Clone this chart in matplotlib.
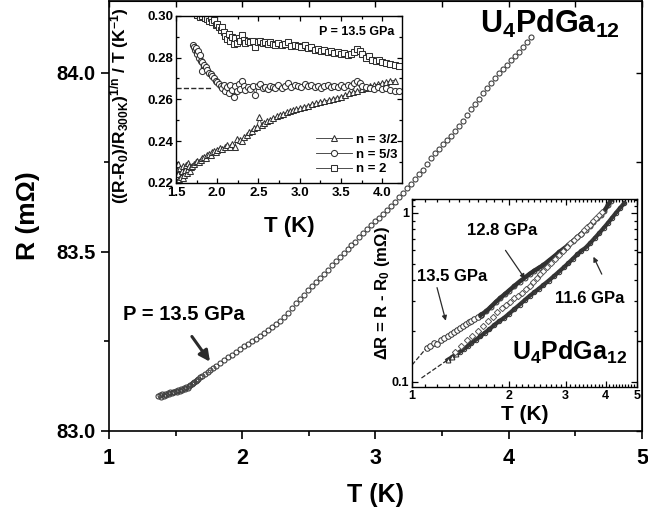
import matplotlib
matplotlib.use("Agg")
import matplotlib.pyplot as plt
from matplotlib.ticker import MultipleLocator, FixedLocator, FixedFormatter, NullFormatter

plt.rcParams['font.family'] = 'Liberation Sans'
plt.rcParams['font.weight'] = 'bold'
plt.rcParams['axes.labelweight'] = 'bold'
plt.rcParams['mathtext.fontset'] = 'custom'
plt.rcParams['mathtext.rm'] = 'Liberation Sans:bold'
plt.rcParams['mathtext.bf'] = 'Liberation Sans:bold'
plt.rcParams['mathtext.it'] = 'Liberation Sans:bold'
plt.rcParams['mathtext.sf'] = 'Liberation Sans:bold'
plt.rcParams['mathtext.default'] = 'bf'

# ---- main curve R(T), P = 13.5 GPa
T_main = [1.37, 1.38, 1.39, 1.40, 1.41, 1.42, 1.43, 1.44, 1.45, 1.46, 1.47, 1.48, 1.49, 1.50,
          1.51, 1.52, 1.53, 1.54, 1.55, 1.56, 1.57, 1.58, 1.59, 1.60, 1.61, 1.62, 1.63, 1.64,
          1.65, 1.66, 1.67, 1.68, 1.70, 1.72, 1.74, 1.76, 1.78, 1.80, 1.83, 1.86, 1.89, 1.92,
          1.95, 1.98, 2.01, 2.04, 2.07, 2.10, 2.13, 2.16, 2.19, 2.22, 2.25, 2.28, 2.31, 2.34,
          2.37, 2.40, 2.43, 2.46, 2.49, 2.52, 2.55, 2.58, 2.61, 2.64, 2.67, 2.70, 2.73, 2.76,
          2.79, 2.82, 2.85, 2.88, 2.91, 2.94, 2.97, 3.00, 3.03, 3.06, 3.09, 3.12, 3.15, 3.18,
          3.21, 3.24, 3.27, 3.30, 3.33, 3.36, 3.39, 3.42, 3.45, 3.48, 3.51, 3.54, 3.57, 3.60,
          3.63, 3.66, 3.69, 3.72, 3.75, 3.78, 3.81, 3.84, 3.87, 3.90, 3.93, 3.96, 3.99, 4.02,
          4.05, 4.08, 4.11, 4.14, 4.17]
R_main = [83.098, 83.100, 83.096, 83.102, 83.099, 83.104, 83.101, 83.106, 83.103, 83.108,
          83.105, 83.110, 83.108, 83.112, 83.110, 83.114, 83.112, 83.117, 83.115, 83.119,
          83.118, 83.122, 83.121, 83.126, 83.127, 83.131, 83.133, 83.137, 83.140, 83.143,
          83.146, 83.150, 83.154, 83.159, 83.164, 83.170, 83.176, 83.180, 83.189, 83.197,
          83.206, 83.213, 83.220, 83.228, 83.236, 83.243, 83.250, 83.258, 83.266, 83.273,
          83.282, 83.290, 83.298, 83.307, 83.318, 83.330, 83.343, 83.356, 83.367, 83.380,
          83.393, 83.404, 83.416, 83.427, 83.439, 83.450, 83.462, 83.474, 83.486, 83.498,
          83.508, 83.518, 83.528, 83.540, 83.552, 83.565, 83.575, 83.585, 83.595, 83.606,
          83.617, 83.628, 83.640, 83.652, 83.664, 83.677, 83.690, 83.703, 83.716, 83.728,
          83.745, 83.763, 83.776, 83.788, 83.800, 83.812, 83.824, 83.836, 83.850, 83.866,
          83.883, 83.898, 83.912, 83.927, 83.943, 83.958, 83.972, 83.985, 83.998, 84.010,
          84.022, 84.034, 84.046, 84.058, 84.072, 84.086, 84.100]

# ---- inset 1: ((R-R0)/R300K)^(1/n) / T
T_n32 = [1.50, 1.51, 1.52, 1.53, 1.54, 1.55, 1.56, 1.57, 1.58, 1.59, 1.60, 1.61, 1.62, 1.63,
         1.64, 1.65, 1.66, 1.67, 1.68, 1.70, 1.72, 1.74, 1.76, 1.78, 1.80, 1.82, 1.84, 1.86,
         1.88, 1.90, 1.92, 1.94, 1.96, 1.98, 2.00, 2.03, 2.06, 2.09, 2.12, 2.15, 2.18, 2.21,
         2.24, 2.27, 2.30, 2.33, 2.36, 2.39, 2.42, 2.45, 2.48, 2.51, 2.54, 2.57, 2.60, 2.64,
         2.68, 2.72, 2.76, 2.80, 2.84, 2.88, 2.92, 2.96, 3.00, 3.05, 3.10, 3.15, 3.20, 3.25,
         3.30, 3.35, 3.40, 3.45, 3.50, 3.55, 3.60, 3.65, 3.70, 3.75, 3.80, 3.85, 3.90, 3.95,
         4.00, 4.05, 4.10, 4.15]
Y_n32 = [0.2265, 0.2235, 0.2290, 0.2245, 0.2220, 0.2270, 0.2230, 0.2255, 0.2225, 0.2280,
         0.2240, 0.2262, 0.2285, 0.2250, 0.2295, 0.2268, 0.2280, 0.2258, 0.2275, 0.2282,
         0.2290, 0.2298, 0.2305, 0.2300, 0.2312, 0.2318, 0.2325, 0.2320, 0.2332, 0.2340,
         0.2335, 0.2346, 0.2352, 0.2348, 0.2360, 0.2368, 0.2362, 0.2373, 0.2380, 0.2372,
         0.2385, 0.2370, 0.2412, 0.2405, 0.2400, 0.2418, 0.2430, 0.2442, 0.2450, 0.2462,
         0.2470, 0.2515, 0.2478, 0.2488, 0.2495, 0.2502, 0.2510, 0.2518, 0.2525, 0.2530,
         0.2538, 0.2542, 0.2548, 0.2553, 0.2558, 0.2565, 0.2570, 0.2576, 0.2582, 0.2586,
         0.2592, 0.2597, 0.2602, 0.2608, 0.2612, 0.2620, 0.2628, 0.2634, 0.2640, 0.2648,
         0.2655, 0.2662, 0.2668, 0.2672, 0.2678, 0.2683, 0.2688, 0.2690]

T_n53 = [1.71, 1.72, 1.73, 1.74, 1.75, 1.76, 1.77, 1.78, 1.79, 1.80, 1.81, 1.82, 1.84, 1.86,
         1.88, 1.90, 1.92, 1.94, 1.96, 1.98, 2.00, 2.02, 2.04, 2.06, 2.08, 2.10, 2.12, 2.14,
         2.16, 2.18, 2.20, 2.22, 2.24, 2.26, 2.28, 2.30, 2.32, 2.34, 2.37, 2.40, 2.43, 2.46,
         2.49, 2.52, 2.55, 2.58, 2.61, 2.64, 2.67, 2.70, 2.74, 2.78, 2.82, 2.86, 2.90, 2.94,
         2.98, 3.02, 3.06, 3.10, 3.14, 3.18, 3.22, 3.26, 3.30, 3.34, 3.38, 3.42, 3.46, 3.50,
         3.54, 3.58, 3.62, 3.66, 3.70, 3.73, 3.76, 3.80, 3.85, 3.90, 3.95, 4.00, 4.05, 4.10,
         4.15, 4.20]
Y_n53 = [0.2860, 0.2850, 0.2838, 0.2845, 0.2825, 0.2815, 0.2830, 0.2800, 0.2810, 0.2785,
         0.2735, 0.2780, 0.2765, 0.2755, 0.2740, 0.2728, 0.2720, 0.2712, 0.2700, 0.2690,
         0.2682, 0.2672, 0.2665, 0.2655, 0.2668, 0.2640, 0.2660, 0.2632, 0.2670, 0.2645,
         0.2610, 0.2662, 0.2640, 0.2675, 0.2650, 0.2690, 0.2665, 0.2645, 0.2658, 0.2650,
         0.2665, 0.2620, 0.2662, 0.2672, 0.2655, 0.2660, 0.2648, 0.2665, 0.2660, 0.2652,
         0.2668, 0.2655, 0.2662, 0.2678, 0.2660, 0.2670, 0.2665, 0.2658, 0.2672, 0.2662,
         0.2668, 0.2660, 0.2665, 0.2655, 0.2663, 0.2668, 0.2660, 0.2665, 0.2658, 0.2667,
         0.2660, 0.2670, 0.2662, 0.2676, 0.2690, 0.2680, 0.2664, 0.2660, 0.2655, 0.2650,
         0.2660, 0.2648, 0.2652, 0.2645, 0.2642, 0.2640]

T_n2 = [1.76, 1.79, 1.82, 1.85, 1.88, 1.90, 1.92, 1.94, 1.96, 1.98, 2.00, 2.02, 2.04, 2.06,
        2.08, 2.10, 2.12, 2.14, 2.16, 2.18, 2.20, 2.22, 2.24, 2.26, 2.28, 2.30, 2.32, 2.34,
        2.37, 2.40, 2.43, 2.46, 2.49, 2.52, 2.55, 2.58, 2.61, 2.64, 2.67, 2.70, 2.74, 2.78,
        2.82, 2.86, 2.90, 2.94, 2.98, 3.02, 3.06, 3.10, 3.14, 3.18, 3.22, 3.26, 3.30, 3.34,
        3.38, 3.42, 3.46, 3.50, 3.54, 3.58, 3.62, 3.66, 3.70, 3.73, 3.76, 3.80, 3.84, 3.88,
        3.92, 3.96, 4.00, 4.05, 4.10, 4.15, 4.20]
Y_n2 = [0.3005, 0.2995, 0.3000, 0.2990, 0.2985, 0.2975, 0.2990, 0.2968, 0.2980, 0.2955,
        0.2962, 0.2945, 0.2930, 0.2948, 0.2920, 0.2905, 0.2890, 0.2912, 0.2878, 0.2900,
        0.2865, 0.2892, 0.2870, 0.2895, 0.2880, 0.2910, 0.2885, 0.2868, 0.2880, 0.2872,
        0.2878, 0.2850, 0.2872, 0.2880, 0.2868, 0.2875, 0.2865, 0.2872, 0.2866, 0.2860,
        0.2870, 0.2858, 0.2864, 0.2872, 0.2856, 0.2862, 0.2855, 0.2850, 0.2858, 0.2845,
        0.2850, 0.2838, 0.2842, 0.2832, 0.2836, 0.2828, 0.2830, 0.2822, 0.2826, 0.2818,
        0.2822, 0.2812, 0.2818, 0.2826, 0.2842, 0.2832, 0.2815, 0.2800, 0.2805, 0.2790,
        0.2782, 0.2788, 0.2778, 0.2772, 0.2768, 0.2762, 0.2760]

dash1_T = [1.50, 1.92]
dash1_Y = [0.2655, 0.2655]

# ---- inset 2: log-log dR vs T
T_135 = [1.11, 1.14, 1.17, 1.20, 1.23, 1.26, 1.29, 1.32, 1.35, 1.38, 1.41, 1.44, 1.47, 1.50,
         1.53, 1.56, 1.60, 1.64, 1.70, 1.76, 1.82, 1.88, 1.94, 2.00, 2.08, 2.16, 2.24, 2.32,
         2.40, 2.48, 2.56, 2.66, 2.76, 2.86, 2.96, 3.06, 3.16, 3.26, 3.36, 3.46, 3.56, 3.66,
         3.76, 3.86, 3.96, 4.06, 4.14]
dR_135 = [0.158, 0.163, 0.170, 0.168, 0.178, 0.182, 0.186, 0.193, 0.197, 0.203, 0.208, 0.214,
          0.220, 0.226, 0.231, 0.236, 0.243, 0.250, 0.262, 0.279, 0.297, 0.314, 0.330, 0.347,
          0.370, 0.393, 0.414, 0.436, 0.456, 0.474, 0.492, 0.522, 0.552, 0.585, 0.615, 0.645,
          0.680, 0.718, 0.755, 0.795, 0.840, 0.885, 0.930, 0.970, 1.030, 1.110, 1.180]

T_128 = [1.36, 1.42, 1.48, 1.54, 1.60, 1.66, 1.72, 1.78, 1.84, 1.90, 1.96, 2.02, 2.08, 2.14,
         2.20, 2.26, 2.32, 2.38, 2.44, 2.50, 2.56, 2.62, 2.70, 2.78, 2.86, 2.94, 3.02, 3.10,
         3.18, 3.26, 3.34, 3.42, 3.50, 3.58, 3.66, 3.74, 3.82, 3.90]
dR_128 = [0.151, 0.163, 0.176, 0.188, 0.201, 0.214, 0.228, 0.244, 0.260, 0.273, 0.286, 0.299,
          0.312, 0.324, 0.336, 0.353, 0.372, 0.392, 0.413, 0.434, 0.455, 0.476, 0.505, 0.535,
          0.565, 0.595, 0.627, 0.660, 0.692, 0.722, 0.755, 0.790, 0.822, 0.852, 0.895, 0.935,
          0.975, 1.010]

T_116 = [1.29, 1.33, 1.37, 1.41, 1.45, 1.49, 1.53, 1.58, 1.63, 1.68, 1.74, 1.80, 1.86, 1.93,
         2.00, 2.08, 2.16, 2.24, 2.32, 2.40, 2.48, 2.56, 2.66, 2.76, 2.86, 2.96, 3.06, 3.16,
         3.26, 3.36, 3.46, 3.58, 3.70, 3.82, 3.94, 4.06, 4.18, 4.30, 4.43, 4.56]
dR_116 = [0.135, 0.140, 0.146, 0.151, 0.157, 0.163, 0.170, 0.178, 0.186, 0.195, 0.205, 0.217,
          0.228, 0.239, 0.253, 0.270, 0.287, 0.305, 0.323, 0.340, 0.357, 0.375, 0.398, 0.423,
          0.449, 0.476, 0.505, 0.536, 0.568, 0.598, 0.622, 0.665, 0.712, 0.762, 0.815, 0.872,
          0.935, 1.000, 1.070, 1.140]

dash2a_T = [1.00, 1.10]
dash2a_Y = [0.126, 0.156]
dash2b_T = [1.07, 1.29]
dash2b_Y = [0.1055, 0.135]

dark = '#2a2a2a'

fig = plt.figure(figsize=(6.48, 5.11), dpi=100)

# ================= main axes
ax = fig.add_axes([0.1682, 0.1566, 0.8225, 0.8415])
ax.plot(T_main, R_main, 'o', mfc='none', mec='#404040', ms=3.6, mew=0.8)
ax.set_xlim(1, 5)
ax.set_ylim(83.0, 84.2)
ax.xaxis.set_major_locator(MultipleLocator(1))
ax.xaxis.set_minor_locator(MultipleLocator(0.5))
ax.yaxis.set_major_locator(FixedLocator([83.0, 83.5, 84.0]))
ax.yaxis.set_minor_locator(MultipleLocator(0.25))
ax.yaxis.set_major_formatter(FixedFormatter(['83.0', '83.5', '84.0']))
ax.tick_params(which='major', direction='out', length=6, width=1.2, labelsize=14.5)
ax.tick_params(which='minor', direction='out', length=3.5, width=1.2)
ax.tick_params(axis='x', pad=6, labelsize=15.5)
for s in ax.spines.values():
    s.set_linewidth(1.2)
secx = ax.secondary_xaxis('top')
secx.xaxis.set_major_locator(MultipleLocator(0.5))
secx.tick_params(direction='in', length=4, width=1.0, labeltop=False)
secy = ax.secondary_yaxis('right')
secy.yaxis.set_major_locator(MultipleLocator(0.25))
secy.tick_params(direction='in', length=4, width=1.0, labelright=False)
ax.set_xlabel('T (K)', fontsize=18, labelpad=10)
ax.set_ylabel('R (m\u03a9)', fontsize=19, labelpad=12)

ax.text(0.696, 0.926, r'U$_{4}$PdGa$_{12}$', transform=ax.transAxes, fontsize=22,
        va='baseline', ha='left')
ax.text(1.105, 83.324, 'P = 13.5 GPa', fontsize=14.5, va='center', ha='left')
ax.annotate('', xy=(1.77, 83.187), xytext=(1.61, 83.27),
            arrowprops=dict(arrowstyle='-|>', lw=2.2, color=dark, mutation_scale=16))

# ================= inset 1
ax1 = fig.add_axes([0.2716, 0.6419, 0.3488, 0.3274])
mk = dict(mfc='white', mec='#303030', ms=4.4, mew=0.75, lw=0.6, color='#303030')
ax1.plot(T_n32, Y_n32, '-^', label='n = 3/2', **mk)
ax1.plot(T_n53, Y_n53, '-o', label='n = 5/3', **mk)
ax1.plot(T_n2, Y_n2, '-s', label='n = 2', **mk)
ax1.plot(dash1_T, dash1_Y, '--', color=dark, lw=1.0)
ax1.set_xlim(1.5, 4.24)
ax1.set_ylim(0.22, 0.30)
ax1.xaxis.set_major_locator(MultipleLocator(0.5))
ax1.xaxis.set_minor_locator(MultipleLocator(0.25))
ax1.yaxis.set_major_locator(FixedLocator([0.22, 0.24, 0.26, 0.28, 0.30]))
ax1.yaxis.set_major_formatter(FixedFormatter(['0.22', '0.24', '0.26', '0.28', '0.30']))
ax1.yaxis.set_minor_locator(MultipleLocator(0.01))
ax1.tick_params(which='both', direction='in', top=True, right=True, width=0.9)
ax1.tick_params(which='major', length=3.5, labelsize=9.5, pad=2)
ax1.tick_params(axis='x', pad=3)
ax1.tick_params(which='minor', length=2)
for s in ax1.spines.values():
    s.set_linewidth(1.0)
ax1.set_xlabel('T (K)', fontsize=16, labelpad=12)
ax1.set_ylabel(r'((R-R$_0$)/R$_{300K}$)$^{1/n}$ / T (K$^{-1}$)', fontsize=12.5)
ax1.yaxis.set_label_coords(-0.2, 0.46)
ax1.text(0.80, 0.90, 'P = 13.5 GPa', transform=ax1.transAxes, fontsize=9, ha='center',
         va='center')
ax1.legend(loc='lower right', bbox_to_anchor=(1.02, -0.01), frameon=False, fontsize=9.5,
           handlelength=2.7, labelspacing=0.2, handletextpad=0.3, borderpad=0.2)

# ================= inset 2
ax2 = fig.add_axes([0.6358, 0.2427, 0.3472, 0.3679])
ax2.set_xscale('log')
ax2.set_yscale('log')
ax2.plot(T_135[:18], dR_135[:18], 'o', mfc='white', mec='#303030', ms=4, mew=0.7)
ax2.plot(T_135[17:], dR_135[17:], '-o', color='#303030', lw=3.2, mfc='none', mec='#303030',
         ms=3.5, mew=0.7)
ax2.plot(T_116, dR_116, '-o', color='#383838', lw=3.0, mfc='none', mec='#303030', ms=3.2,
         mew=0.7)
ax2.plot(T_116[:3], dR_116[:3], '^', mfc='white', mec='#303030', ms=3.5, mew=0.7)
ax2.plot(T_128, dR_128, 'D', mfc='white', mec='#555555', ms=3.2, mew=0.7)
ax2.plot(dash2a_T, dash2a_Y, '--', color=dark, lw=0.9)
ax2.plot(dash2b_T, dash2b_Y, '--', color=dark, lw=0.9)
ax2.set_xlim(1, 5)
ax2.set_ylim(0.0934, 1.21)
ax2.xaxis.set_major_locator(FixedLocator([1, 2, 3, 4, 5]))
ax2.xaxis.set_major_formatter(FixedFormatter(['1', '2', '3', '4', '5']))
ax2.xaxis.set_minor_locator(FixedLocator([1.1, 1.2, 1.3, 1.4, 1.5, 1.6, 1.7, 1.8, 1.9,
                                          2.1, 2.2, 2.3, 2.4, 2.5, 2.6, 2.7, 2.8, 2.9,
                                          3.1, 3.2, 3.3, 3.4, 3.5, 3.6, 3.7, 3.8, 3.9,
                                          4.1, 4.2, 4.3, 4.4, 4.5, 4.6, 4.7, 4.8, 4.9]))
ax2.xaxis.set_minor_formatter(NullFormatter())
ax2.yaxis.set_major_locator(FixedLocator([0.1, 1]))
ax2.yaxis.set_major_formatter(FixedFormatter(['0.1', '1']))
ax2.yaxis.set_minor_locator(FixedLocator([0.2, 0.3, 0.4, 0.5, 0.6, 0.7, 0.8, 0.9, 1.1, 1.2]))
ax2.yaxis.set_minor_formatter(NullFormatter())
ax2.tick_params(which='both', direction='in', top=True, right=True, width=0.9)
ax2.tick_params(which='major', length=4, labelsize=9, pad=2)
ax2.tick_params(which='minor', length=2)
for s in ax2.spines.values():
    s.set_linewidth(1.0)
ax2.set_xlabel('T (K)', fontsize=15, labelpad=2)
ax2.set_ylabel('\u0394R = R - R$_0$ (m\u03a9)', fontsize=12)
ax2.yaxis.set_label_coords(-0.09, 0.5)

ax2.text(1.90, 0.79, '12.8 GPa', fontsize=12, ha='center', va='center')
ax2.text(1.33, 0.418, '13.5 GPa', fontsize=12, ha='center', va='center')
ax2.text(3.57, 0.31, '11.6 GPa', fontsize=12, ha='center', va='center')
thin = dict(arrowstyle='-|>', lw=0.9, color=dark, mutation_scale=7)
ax2.annotate('', xy=(2.27, 0.395), xytext=(1.93, 0.62), arrowprops=thin)
ax2.annotate('', xy=(1.28, 0.222), xytext=(1.19, 0.375), arrowprops=thin)
ax2.annotate('', xy=(3.63, 0.57), xytext=(3.92, 0.42), arrowprops=thin)
ax2.text(0.444, 0.144, r'U$_{4}$PdGa$_{12}$', transform=ax2.transAxes, fontsize=18,
         va='baseline', ha='left')

fig.savefig('out.png', dpi=100)
